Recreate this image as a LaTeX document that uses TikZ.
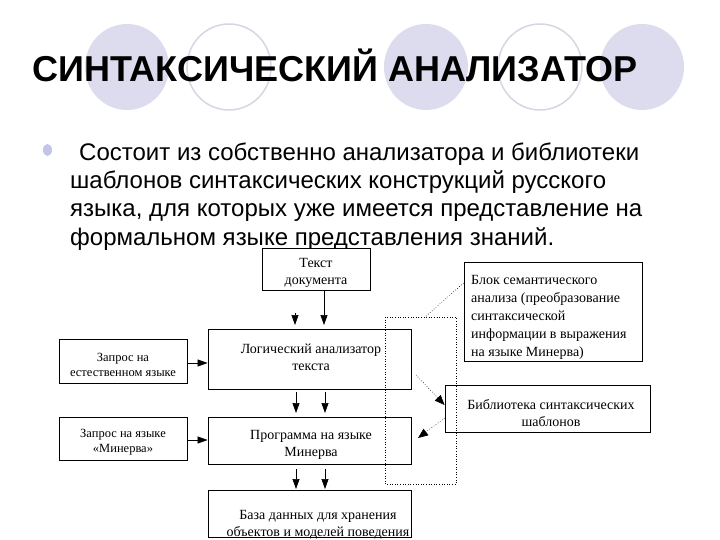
\documentclass[tikz,border=0pt]{standalone}
\usepackage{fontspec}
\setmainfont{Liberation Serif}
\newfontfamily\sansf{Liberation Sans}
\usetikzlibrary{arrows.meta}
\definecolor{lav}{RGB}{220,220,238}
\definecolor{lavline}{RGB}{214,214,228}
\definecolor{bulletc}{RGB}{196,196,232}
\begin{document}
\begin{tikzpicture}[x=1pt,y=-1pt,
  box/.style={draw=black, line width=0.8pt, fill=white, inner sep=0pt},
  lbl/.style={inner sep=0pt, align=center, font=\fontsize{14}{17}\selectfont},
  smalllbl/.style={lbl, font=\fontsize{12.5}{15}\selectfont},
  bodyline/.style={anchor=base west, inner sep=0pt, font=\sansf\fontsize{24}{28}\selectfont},
  arr/.style={-{Triangle[length=10pt,width=7pt]}, line width=0.7pt},
  dotarr/.style={dotted, line width=0.6pt, -{Triangle[length=10pt,width=8pt]}},
  dotline/.style={dotted, line width=0.6pt},
  deco/.style={fill=lav, draw=none},
  decoring/.style={draw=lavline, line width=1.5pt, fill=none}
]
\useasboundingbox (0,0) rectangle (720,540);
\fill[white] (0,0) rectangle (720,540);
% decorative circles
\fill[deco] (127,67) ellipse [x radius=42, y radius=43];
\draw[decoring] (229,67) ellipse [x radius=42, y radius=43];
\fill[deco] (426,67) ellipse [x radius=42, y radius=43];
\draw[decoring] (540,67) ellipse [x radius=42, y radius=43];
\fill[deco] (642,67) ellipse [x radius=42, y radius=43];
% title
\node[anchor=base west, inner sep=0pt, font=\sansf\bfseries\fontsize{36}{40}\selectfont] (title) at (32,82) {СИНТАКСИЧЕСКИЙ АНАЛИЗАТОР};
% bullet and text
\fill[bulletc] (47.5,150) ellipse [x radius=4.5, y radius=6];
\node[bodyline] (l1) at (79,161) {Состоит из собственно анализатора и библиотеки};
\node[bodyline] (l2) at (70,189) {шаблонов синтаксических конструкций русского};
\node[bodyline] (l3) at (70,217) {языка, для которых уже имеется представление на};
\node[bodyline] (l4) at (70,245) {формальном языке представления знаний.};
% boxes
\node[box, minimum width=108pt, minimum height=42pt] (doc) at (316,269) {};
\node[lbl] (doct) at (316,273) {Текст\\документа};
\node[box, minimum width=203pt, minimum height=60pt] (logic) at (309.5,359) {};
\node[lbl] (logict) at (311,357) {Логический анализатор\\текста};
\node[box, minimum width=128pt, minimum height=44pt] (req1) at (123,361) {};
\node[smalllbl] (req1t) at (123,364.5) {Запрос на\\естественном языке};
\node[box, minimum width=203pt, minimum height=47pt] (prog) at (309.5,440.5) {};
\node[lbl] (progt) at (311,445) {Программа на языке\\Минерва};
\node[box, minimum width=128pt, minimum height=43pt] (req2) at (123,438.5) {};
\node[smalllbl] (req2t) at (123,442) {Запрос на языке\\«Минерва»};
\node[box, minimum width=203pt, minimum height=47pt] (db) at (309.5,513.5) {};
\node[lbl] (dbt) at (318,525) {База данных для хранения\\объектов и моделей поведения};
\node[box, minimum width=178pt, minimum height=99pt] (sem) at (553,311.5) {};
\node[lbl, align=left, anchor=north west, font=\fontsize{14}{18}\selectfont] (semt) at (471,275) {Блок семантического\\анализа (преобразование\\синтаксической\\информации в выражения\\на языке Минерва)};
\node[box, minimum width=205pt, minimum height=47pt] (lib) at (547.5,408.5) {};
\node[lbl] (libt) at (551,413) {Библиотека синтаксических\\шаблонов};
% dotted frame
\coordinate (f1) at (385,317);
\coordinate (f2) at (456,484);
\draw[dotline] (f1) rectangle (f2);
% arrows
\coordinate (a0) at (295,313);
\coordinate (a0e) at (295,325);
\draw[arr] (a0) -- (a0e);
\coordinate (a1e) at (324,325);
\draw[arr] (doc.south -| a1e) -- (a1e);
\coordinate (b1s) at (296,392);
\coordinate (b1e) at (296,413);
\coordinate (b2s) at (325,392);
\coordinate (b2e) at (325,413);
\draw[arr] (b1s) -- (b1e);
\draw[arr] (b2s) -- (b2e);
\coordinate (c1s) at (296,469);
\coordinate (c1e) at (296,489);
\coordinate (c2s) at (325,469);
\coordinate (c2e) at (325,489);
\draw[arr] (c1s) -- (c1e);
\draw[arr] (c2s) -- (c2e);
\draw[arr] (req1.east |- 0,363) -- (logic.west |- 0,363);
\draw[arr] (req2.east |- 0,440) -- (prog.west |- 0,440);
\coordinate (s1) at (425,317);
\draw[dotline] (sem.west |- 0,283) -- (s1);
\coordinate (d1s) at (416,375);
\draw[dotarr] (d1s) -- (lib.west |- 0,405);
\coordinate (d2e) at (418,438);
\draw[dotarr] (lib.west |- 0,418) -- (d2e);
\end{tikzpicture}
\end{document}
